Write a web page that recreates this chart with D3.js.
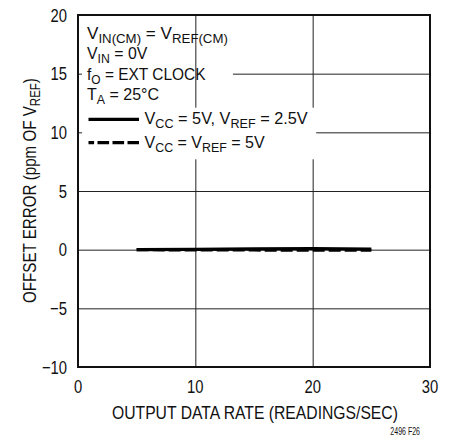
<!DOCTYPE html>
<html>
<head>
<meta charset="utf-8">
<script src="https://cdn.jsdelivr.net/npm/d3@7"></script>
<style>
  html, body { margin: 0; padding: 0; background: #fff; }
  svg text { font-family: "Liberation Sans", Arial, sans-serif; fill: #111; }
</style>
</head>
<body>
<svg id="chart" width="453" height="438"></svg>
<script>
// Output data rate (readings/sec) and offset error (ppm of VREF)
const rates = [5, 10, 15, 20, 25];
const offsetVcc5Vref25 = [0.0, 0.03, 0.06, 0.1, 0.05];
const offsetVccEqVref5 = [0.0, -0.03, -0.03, -0.05, -0.05];

const xTicks = [0, 10, 20, 30];
const yTicks = [-10, -5, 0, 5, 10, 15, 20];
const xTickLabels = ["0", "10", "20", "30"];
const yTickLabels = ["\u221210", "\u22125", "0", "5", "10", "15", "20"];

const svg = d3.select("#chart");
const margin = { left: 78, right: 23, top: 15, bottom: 71 };
const W = 453, H = 438;

const x = d3.scaleLinear().domain([0, 30]).range([margin.left, W - margin.right]);
const y = d3.scaleLinear().domain([-10, 20]).range([H - margin.bottom, margin.top]);

const plotW = x(30) - x(0), plotH = y(-10) - y(20);

const SUB_SHIFT = 4;

// Text with subscript runs: parts is a list of [text, isSubscript]
function rich(sel, parts, subSize) {
  let shifted = false;
  parts.forEach(([t, sub]) => {
    const ts = sel.append("tspan").text(t);
    if (sub) ts.attr("font-size", subSize).attr("dy", shifted ? 0 : SUB_SHIFT);
    else ts.attr("dy", shifted ? -SUB_SHIFT : 0);
    shifted = !!sub;
  });
  return sel;
}

// Condensed lettering: draw the text, then squeeze it horizontally
// (either by a fixed factor or to a wanted width).
function condensed(parent, px, py, size, parts, opts = {}) {
  const t = parent.append("text").attr("font-size", size)
    .attr("text-anchor", opts.anchor || "start");
  if (typeof parts === "string") t.text(parts);
  else rich(t, parts, opts.sub || size * 0.8);
  let s = opts.scale || 0.85;
  if (opts.width) s = opts.width / t.node().getBBox().width;
  const rot = opts.rotate ? ` rotate(${opts.rotate})` : "";
  t.attr("transform", `translate(${px},${py})${rot} scale(${s},1)`);
  return t;
}

// horizontal grid
svg.append("g")
  .attr("transform", `translate(${x(0)},0)`)
  .call(d3.axisLeft(y).tickValues(yTicks).tickSize(-plotW).tickFormat(""))
  .call(g => g.select(".domain").remove())
  .call(g => g.selectAll("line").attr("stroke", "#222").attr("stroke-width", 1));

// white backing behind the condition notes (hides the horizontal grid only)
svg.append("rect")
  .attr("x", x(0) + 4).attr("y", y(20) + 2)
  .attr("width", x(13.2) - x(0) - 4).attr("height", y(11.8) - y(20) - 2)
  .attr("fill", "#fff");

// vertical grid
svg.append("g")
  .attr("transform", `translate(0,${y(-10)})`)
  .call(d3.axisBottom(x).tickValues(xTicks).tickSize(-plotH).tickFormat(""))
  .call(g => g.select(".domain").remove())
  .call(g => g.selectAll("line").attr("stroke", "#222").attr("stroke-width", 1));

// white backing behind the legend entries
svg.append("rect")
  .attr("x", x(0.35)).attr("y", y(12.1))
  .attr("width", x(20.3) - x(0.35)).attr("height", y(7.7) - y(12.1))
  .attr("fill", "#fff");

// frame
svg.append("rect")
  .attr("x", x(0)).attr("y", y(20))
  .attr("width", plotW).attr("height", plotH)
  .attr("fill", "none").attr("stroke", "#111").attr("stroke-width", 2);

// tick labels
const gy = svg.append("g");
yTicks.forEach((d, i) => condensed(gy, x(0) - 11, y(d) + 6.5, 18.5, yTickLabels[i], { anchor: "end", scale: 0.8 }));
const gx = svg.append("g");
xTicks.forEach((d, i) => condensed(gx, x(d), y(-10) + 25.5, 18.5, xTickLabels[i], { anchor: "middle", scale: 0.8 }));

// axis titles
condensed(svg, 112, 419, 18.5, "OUTPUT DATA RATE (READINGS/SEC)", { width: 286 });
condensed(svg, 36, 303, 18.5, [["OFFSET ERROR (ppm OF V"], ["REF", true], [")"]], { width: 225, rotate: -90, sub: 14 });

// condition notes
const notes = [
  { parts: [["V"], ["IN(CM)", true], [" = V"], ["REF(CM)", true]], w: 141 },
  { parts: [["V"], ["IN", true], [" = 0V"]], w: 61 },
  { parts: [["f"], ["O", true], [" = EXT CLOCK"]], w: 118.5 },
  { parts: [["T"], ["A", true], [" = 25°C"]], w: 72 }
];
const noteBase = [39.3, 59.3, 79.5, 100];
notes.forEach((n, i) => condensed(svg, 87, noteBase[i], 16.8, n.parts, { width: n.w, sub: 13 }));

// data lines
const line = d3.line().x(d => x(d[0])).y(d => y(d[1]));
const series = [
  { vals: offsetVcc5Vref25, dash: null, legendDash: null,
    label: [["V"], ["CC", true], [" = 5V, V"], ["REF", true], [" = 2.5V"]], w: 164 },
  { vals: offsetVccEqVref5, dash: "12,4", legendDash: "5.6,3.4,11.6,3.4,11.6,3.4,12",
    label: [["V"], ["CC", true], [" = V"], ["REF", true], [" = 5V"]], w: 121 }
];
series.forEach(s => {
  svg.append("path")
    .datum(rates.map((r, i) => [r, s.vals[i]]))
    .attr("d", line)
    .attr("fill", "none").attr("stroke", "#000").attr("stroke-width", 3.2)
    .attr("stroke-dasharray", s.dash);
});

// legend
const legendY = [119.3, 142.7];
series.forEach((s, i) => {
  const ly = legendY[i];
  svg.append("line")
    .attr("x1", 88.5).attr("x2", 139).attr("y1", ly).attr("y2", ly)
    .attr("stroke", "#000").attr("stroke-width", 3.2)
    .attr("stroke-dasharray", s.legendDash);
  condensed(svg, 144.5, ly + 5, 16.8, s.label, { width: s.w, sub: 13 });
});

condensed(svg, 420, 435, 10, "2496 F26", { anchor: "end", width: 30 });
</script>
</body>
</html>
